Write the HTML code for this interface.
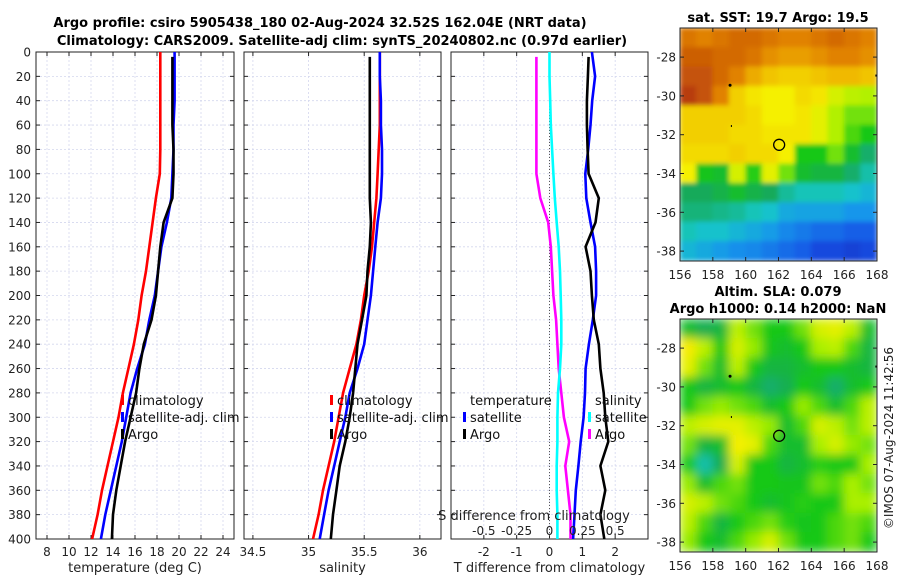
<!DOCTYPE html>
<html><head><meta charset="utf-8"><style>
html,body{margin:0;padding:0;background:#fff;}
svg{display:block;font-family:"DejaVu Sans","Liberation Sans",sans-serif;}
</style></head><body>
<svg id="fig" width="900" height="580" viewBox="0 0 900 580" xmlns="http://www.w3.org/2000/svg">
<defs>
<clipPath id="c1"><rect x="36" y="52" width="198" height="487"/></clipPath>
<clipPath id="c2"><rect x="244" y="52" width="197" height="487"/></clipPath>
<clipPath id="c3"><rect x="451" y="52" width="197" height="487"/></clipPath>
<clipPath id="cm1"><rect x="680" y="28" width="197" height="233"/></clipPath>
<clipPath id="cm2"><rect x="680" y="319" width="197" height="233"/></clipPath>
<filter id="blur" x="0" y="0" width="1" height="1"><feGaussianBlur stdDeviation="5" edgeMode="duplicate"/></filter>
<filter id="blur2" x="0" y="0" width="1" height="1"><feGaussianBlur stdDeviation="2.5" edgeMode="duplicate"/></filter>
</defs>
<g font-weight="bold" font-size="13" text-anchor="middle" fill="#000">
<text x="320" y="27">Argo profile: csiro 5905438_180 02-Aug-2024 32.52S 162.04E (NRT data)</text>
<text x="342" y="45">Climatology: CARS2009. Satellite-adj clim: synTS_20240802.nc (0.97d earlier)</text>
<text x="778" y="22">sat. SST: 19.7 Argo: 19.5</text>
<text x="778" y="296">Altim. SLA: 0.079</text>
<text x="778" y="313">Argo h1000: 0.14 h2000: NaN</text>
</g>
<text transform="translate(893,438) rotate(-90)" font-size="12" text-anchor="middle" fill="#222">©IMOS 07-Aug-2024 11:42:56</text>
<g id="plots"></g>
</svg>
<script>
const depths=[0,20,40,60,80,100,120,140,160,180,200,220,240,260,280,300,320,340,360,380,400];
const tClim=[18.3,18.3,18.3,18.3,18.3,18.25,17.9,17.6,17.3,17.0,16.6,16.3,15.9,15.4,14.9,14.5,14.0,13.5,13.0,12.6,12.1];
const tSat=[19.6,19.6,19.6,19.5,19.5,19.4,19.3,18.9,18.4,18.1,17.8,17.3,16.9,16.2,15.6,15.2,14.8,14.3,13.8,13.3,12.9];
const tArgo=[19.4,19.4,19.4,19.4,19.5,19.5,19.4,18.6,18.3,18.1,17.9,17.5,16.8,16.4,16.1,15.6,15.1,14.7,14.3,14.0,13.9];
const sClim=[35.64,35.64,35.64,35.64,35.63,35.62,35.61,35.59,35.57,35.54,35.50,35.47,35.43,35.37,35.31,35.27,35.23,35.18,35.13,35.09,35.04];
const sSat=[35.64,35.64,35.65,35.65,35.66,35.66,35.65,35.62,35.60,35.58,35.56,35.53,35.50,35.44,35.37,35.33,35.28,35.23,35.18,35.14,35.10];
const sArgo=[35.55,35.55,35.55,35.55,35.55,35.55,35.55,35.56,35.55,35.53,35.52,35.48,35.44,35.42,35.40,35.37,35.33,35.28,35.25,35.22,35.20];
const dTSat=[1.29,1.39,1.3,1.25,1.18,1.09,1.12,1.25,1.39,1.42,1.42,1.32,1.2,1.1,1.08,1.04,0.95,0.88,0.8,0.76,0.72];
const dTArgo=[1.19,1.17,1.14,1.14,1.16,1.19,1.5,1.4,1.1,1.25,1.29,1.35,1.5,1.55,1.65,1.7,1.79,1.55,1.7,1.55,1.67];
const dSSat=[0.0,0.0,0.005,0.01,0.02,0.03,0.04,0.055,0.07,0.08,0.085,0.09,0.09,0.08,0.065,0.06,0.06,0.055,0.055,0.06,0.06];
const dSArgo=[-0.10,-0.10,-0.10,-0.10,-0.10,-0.10,-0.07,-0.01,0.01,0.02,0.03,0.05,0.06,0.07,0.09,0.11,0.15,0.12,0.14,0.16,0.16];
const tTicks=[8,10,12,14,16,18,20,22,24];
const sTicks=[34.5,35,35.5,36];
const dTTicks=[-2,-1,0,1,2];
const dSTicks=[-0.5,-0.25,0,0.25,0.5];
const sstGrid=[
[.82,.80,.82,.84,.84,.82,.80,.80,.82,.84,.82,.80],
[.86,.86,.84,.84,.82,.78,.76,.76,.78,.80,.80,.78],
[.88,.88,.84,.80,.74,.70,.68,.68,.70,.72,.72,.70],
[.92,.88,.80,.68,.64,.62,.62,.66,.64,.58,.55,.54],
[.68,.68,.68,.68,.66,.62,.62,.64,.60,.54,.50,.50],
[.68,.68,.68,.66,.66,.64,.64,.64,.60,.54,.48,.45],
[.66,.66,.66,.68,.66,.66,.62,.45,.45,.50,.42,.36],
[.62,.44,.42,.58,.46,.60,.50,.42,.40,.40,.36,.32],
[.37,.37,.39,.42,.39,.37,.33,.31,.31,.31,.29,.27],
[.35,.35,.34,.33,.31,.29,.25,.24,.24,.24,.22,.22],
[.31,.29,.29,.27,.25,.23,.20,.18,.16,.16,.14,.14],
[.27,.25,.23,.21,.20,.18,.16,.14,.10,.10,.08,.10]];
const slaGrid=[
[.42,.38,.40,.55,.50,.45,.45,.50,.58,.60,.55,.42],
[.63,.55,.45,.58,.52,.44,.42,.45,.53,.55,.48,.40],
[.60,.50,.42,.55,.45,.40,.40,.42,.45,.45,.42,.40],
[.45,.40,.42,.45,.40,.36,.38,.45,.42,.36,.42,.45],
[.45,.50,.52,.50,.48,.42,.45,.52,.48,.42,.48,.55],
[.55,.58,.60,.60,.55,.52,.42,.48,.58,.55,.50,.55],
[.50,.40,.42,.62,.60,.48,.42,.42,.53,.58,.52,.50],
[.45,.32,.38,.58,.45,.45,.40,.42,.46,.45,.45,.53],
[.52,.42,.48,.50,.45,.45,.44,.44,.50,.48,.53,.50],
[.58,.55,.50,.48,.45,.42,.44,.46,.45,.45,.53,.53],
[.55,.48,.40,.45,.48,.50,.46,.44,.45,.48,.50,.48],
[.52,.45,.42,.48,.52,.58,.50,.45,.45,.48,.50,.45]];
const lonTicks=[156,158,160,162,164,166,168];
const latTicks=[-28,-30,-32,-34,-36,-38];
const argoLon=162.04, argoLat=-32.52;

const NS='http://www.w3.org/2000/svg';
const root=document.getElementById('plots');
function mk(tag,attrs,parent){const e=document.createElementNS(NS,tag);for(const k in attrs)e.setAttribute(k,attrs[k]);(parent||root).appendChild(e);return e;}
function txt(s,attrs,parent){const e=mk('text',attrs,parent);e.textContent=s;return e;}
const Y0=52,Y1=539;
const yD=d=>Y0+d/400*(Y1-Y0);
function linX(d0,d1,p0,p1){return v=>p0+(v-d0)/(d1-d0)*(p1-p0);}
const x1=linX(7,25,36,234), x2=linX(34.42,36.19,244,441), x3=linX(-3,3,451,648), x3s=linX(-0.75,0.75,451,648);
const panels=[{x:36,w:198,sx:x1,ticks:tTicks,lab:'temperature (deg C)',name:'temperature-panel'},
{x:244,w:197,sx:x2,ticks:sTicks,lab:'salinity',name:'salinity-panel'},
{x:451,w:197,sx:x3,ticks:dTTicks,lab:'T difference from climatology',name:'difference-panel'}];
const grid='#d4d7ee';
panels.forEach((p,i)=>{
  const g=mk('g',{});
  
  
  for(let d=20;d<400;d+=20){mk('line',{x1:p.x,x2:p.x+p.w,y1:yD(d),y2:yD(d),stroke:grid,'stroke-width':0.8,'stroke-dasharray':'2,2'},g);}
  p.ticks.forEach(t=>{const x=p.sx(t);mk('line',{x1:x,x2:x,y1:Y0,y2:Y1,stroke:grid,'stroke-width':0.8,'stroke-dasharray':'2,2'},g);
    mk('line',{x1:x,x2:x,y1:Y1,y2:Y1-4,stroke:'#222'},g);mk('line',{x1:x,x2:x,y1:Y0,y2:Y0+4,stroke:'#222'},g);
    const l=txt(String(t),{x:x,y:556,'font-size':12,'text-anchor':'middle',fill:'#222'},g);
    
    });
  for(let d=0;d<=400;d+=20){mk('line',{x1:p.x,x2:p.x+4,y1:yD(d),y2:yD(d),stroke:'#222'},g);mk('line',{x1:p.x+p.w,x2:p.x+p.w-4,y1:yD(d),y2:yD(d),stroke:'#222'},g);
    if(i===0){const l=txt(String(d),{x:31,y:yD(d)+4.5,'font-size':12,'text-anchor':'end',fill:'#222'},g);
      
      }}
  mk('rect',{x:p.x,y:Y0,width:p.w,height:Y1-Y0,fill:'none',stroke:'#222','stroke-width':1},g);
  const xl=txt(p.lab,{x:p.x+p.w/2,y:572,'font-size':13,'text-anchor':'middle',fill:'#222'},g);
  
  
});
mk('line',{x1:x3(0),x2:x3(0),y1:Y0,y2:Y1,stroke:'#555','stroke-width':1,'stroke-dasharray':'1,2'});
function line(vals,sx,color,clip,name,argo){
  const pts=vals.map((v,i)=>sx(v).toFixed(1)+','+yD(argo&&i===0?4:depths[i]).toFixed(1)).join(' ');
  const e=mk('polyline',{points:pts,fill:'none',stroke:color,'stroke-width':2.6,'stroke-linejoin':'round','clip-path':'url(#'+clip+')'});
  
  
}
line(tClim,x1,'#ff0000','c1','temp-climatology-line');
line(tSat,x1,'#0000ff','c1','temp-satellite-line');
line(tArgo,x1,'#000','c1','temp-argo-line',true);
line(sClim,x2,'#ff0000','c2','sal-climatology-line');
line(sSat,x2,'#0000ff','c2','sal-satellite-line');
line(sArgo,x2,'#000','c2','sal-argo-line',true);
line(dSArgo,x3s,'#ff00ff','c3','sal-diff-argo-line',true);
line(dSSat,x3s,'#00ffff','c3','sal-diff-satellite-line');
line(dTSat,x3,'#0000ff','c3','temp-diff-satellite-line');
line(dTArgo,x3,'#000','c3','temp-diff-argo-line',true);
const st=txt('S difference from climatology',{x:534,y:520,'font-size':13,'text-anchor':'middle',fill:'#222'});


dSTicks.forEach(t=>{const l=txt(String(t),{x:x3s(t),y:535,'font-size':12,'text-anchor':'middle',fill:'#222'});
  
  });
function leg(x,y,color,label,name){const g=mk('g',{});
  
  
  mk('rect',{x:x,y:y-10,width:3,height:10,fill:color},g);
  txt(label,{x:x+7,y:y,'font-size':13,fill:'#111'},g);}
leg(121,405,'#ff0000','climatology','legend-climatology');
leg(121,422,'#0000ff','satellite-adj. clim','legend-satellite');
leg(121,439,'#000','Argo','legend-argo');
leg(330,405,'#ff0000','climatology','legend-climatology');
leg(330,422,'#0000ff','satellite-adj. clim','legend-satellite');
leg(330,439,'#000','Argo','legend-argo');
txt('temperature',{x:470,y:405,'font-size':13,fill:'#111'});
txt('salinity',{x:595,y:405,'font-size':13,fill:'#111'});
leg(463,422,'#0000ff','satellite','legend-t-satellite');
leg(463,439,'#000','Argo','legend-t-argo');
leg(588,422,'#00ffff','satellite','legend-s-satellite');
leg(588,439,'#ff00ff','Argo','legend-s-argo');
const stops=[[0,[16,40,180]],[0.12,[20,80,230]],[0.22,[20,150,235]],[0.3,[20,200,200]],[0.37,[20,170,90]],[0.45,[20,200,20]],[0.53,[170,240,0]],[0.62,[245,240,0]],[0.72,[240,185,0]],[0.8,[225,130,0]],[0.9,[190,70,10]],[1,[160,30,10]]];
function cmap(v){for(let i=1;i<stops.length;i++){if(v<=stops[i][0]){const a=stops[i-1],b=stops[i],f=(v-a[0])/(b[0]-a[0]);return 'rgb('+a[1].map((c,k)=>Math.round(c+f*(b[1][k]-c))).join(',')+')';}}return 'rgb(160,30,10)';}
const mx=lon=>680+(lon-156)*197/12;
function drawMap(gridV,top,clip,blurId,name){
  const my=lat=>top+(-26.5-lat)*19.4;
  const g=mk('g',{'clip-path':'url(#'+clip+')'});
  
  
  const inner=mk('g',{filter:'url(#'+blurId+')'},g);
  gridV.forEach((row,r)=>row.forEach((v,c)=>{
    const cell=mk('rect',{x:mx(156+c)-0.3,y:my(-26.5-r)-0.3,width:197/12+0.6,height:19.4+0.6,fill:cmap(v)},inner);
    
    
  }));
  mk('circle',{cx:mx(159.05),cy:my(-29.45),r:1.5,fill:'#000'},g);
  mk('rect',{x:mx(159.1),y:my(-31.5),width:1,height:2,fill:'#000'},g);
  mk('rect',{x:mx(167.9),y:my(-28.9),width:2,height:2,fill:'#000'},g);
  const ci=mk('circle',{cx:mx(argoLon),cy:my(argoLat),r:5.5,fill:'none',stroke:'#000','stroke-width':1.3},g);
  
  
  const h=233;
  mk('rect',{x:680,y:top,width:197,height:h,fill:'none',stroke:'#222'});
  lonTicks.forEach(t=>{mk('line',{x1:mx(t),x2:mx(t),y1:top+h,y2:top+h-4,stroke:'#222'});mk('line',{x1:mx(t),x2:mx(t),y1:top,y2:top+4,stroke:'#222'});
    const l=txt(String(t),{x:mx(t),y:top+h+18,'font-size':12,'text-anchor':'middle',fill:'#222'});
    
    });
  latTicks.forEach(t=>{mk('line',{x1:680,x2:684,y1:my(t),y2:my(t),stroke:'#222'});mk('line',{x1:877,x2:873,y1:my(t),y2:my(t),stroke:'#222'});
    const l=txt(String(t),{x:676,y:my(t)+4.5,'font-size':12,'text-anchor':'end',fill:'#222'});
    
    });
}
drawMap(sstGrid,28,'cm1','blur2','sst-map');
drawMap(slaGrid,319,'cm2','blur','sla-map');
</script>
</body></html>
